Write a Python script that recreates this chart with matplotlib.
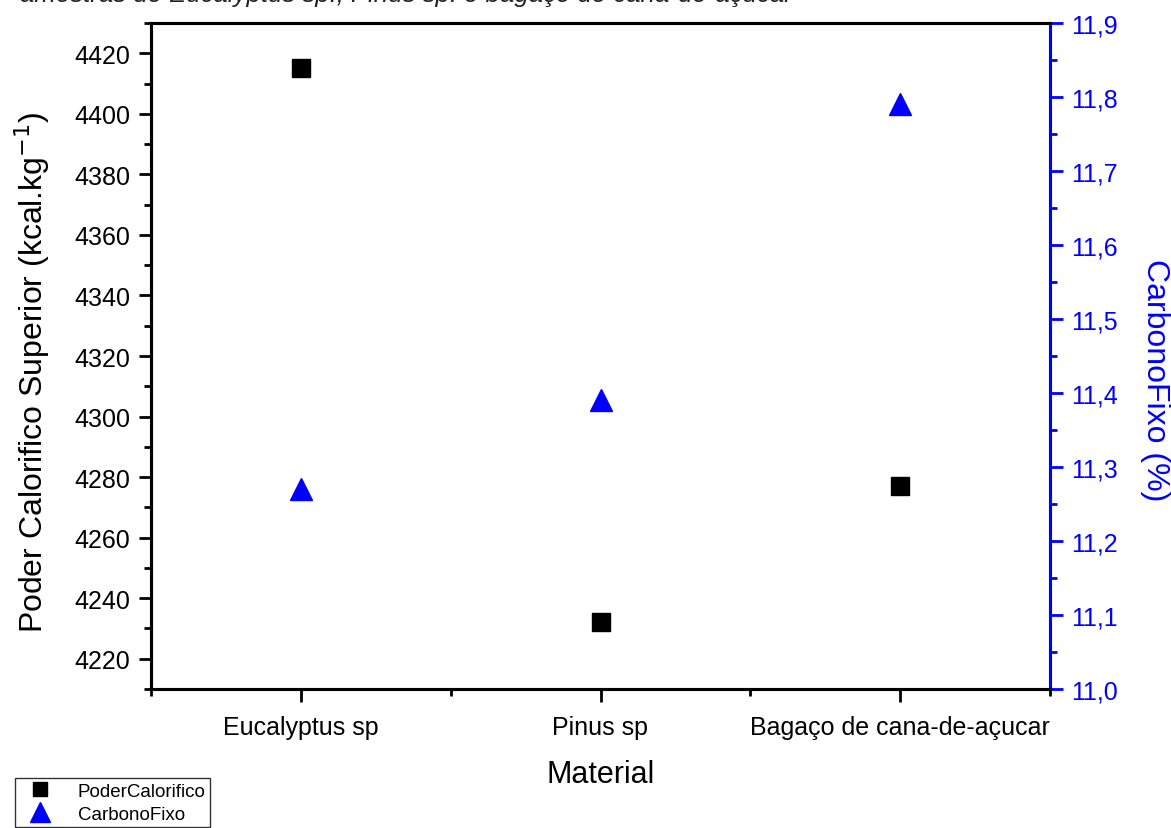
import matplotlib
matplotlib.use("Agg")
import matplotlib.pyplot as plt
from matplotlib.ticker import MultipleLocator, FuncFormatter
from matplotlib.lines import Line2D

plt.rcParams['font.family'] = ['Liberation Sans', 'DejaVu Sans']

# dados das amostras
materiais = ["Eucalyptus sp", "Pinus sp", "Bagaço de cana-de-açucar"]
poder_calorifico = [4415, 4232, 4277]     # kcal/kg
carbono_fixo = [11.27, 11.39, 11.79]      # %

blue = "#0000ff"
pos = list(range(1, len(materiais) + 1))

fig = plt.figure(figsize=(11.71, 8.29), dpi=100)
ax = fig.add_axes([151/1171, 1 - 690/829, 899/1171, 666/829])
ax2 = ax.twinx()

ax.plot(pos, poder_calorifico, "s", color="black", markersize=13, zorder=3)
ax2.plot(pos, carbono_fixo, "^", color=blue, markersize=16, zorder=3)

ax.set_xlim(0.5, 3.5)
ax.set_ylim(4210, 4430)
ax2.set_ylim(11.0, 11.9)

ax.set_xticks(pos)
ax.set_xticklabels(materiais)
ax.xaxis.set_minor_locator(MultipleLocator(0.5))
ax.yaxis.set_major_locator(MultipleLocator(20))
ax.yaxis.set_minor_locator(MultipleLocator(10))
ax2.yaxis.set_major_locator(MultipleLocator(0.1))
ax2.yaxis.set_minor_locator(MultipleLocator(0.05))
ax2.yaxis.set_major_formatter(FuncFormatter(lambda v, p: f"{v:.1f}".replace(".", ",")))

for a in (ax, ax2):
    for s in a.spines.values():
        s.set_linewidth(2.2)
ax2.spines["right"].set_color(blue)

ax.tick_params(axis="both", which="major", direction="out", length=9, width=2,
               labelsize=18, pad=6)
ax.tick_params(axis="both", which="minor", direction="out", length=5, width=2)
ax.tick_params(axis="x", which="major", pad=10)
ax2.tick_params(axis="y", which="major", direction="out", length=9, width=2,
                colors=blue, labelsize=18, pad=6)
ax2.tick_params(axis="y", which="minor", direction="out", length=5, width=2, colors=blue)

ax.set_xlabel("Material", fontsize=22, labelpad=14)
ax.set_ylabel("Poder Calorifico Superior (kcal.kg$^{-1}$)", fontsize=23)
ax.yaxis.set_label_coords(-99/899, (690 - 372) / 666)
ax2.set_ylabel("CarbonoFixo (%)", fontsize=23, color=blue, rotation=-90, va="center")
ax2.yaxis.set_label_coords(1 + 105/899, (690 - 380) / 666)

# título parcialmente fora da figura
fig.text(20/1171, 1 - 2/829,
         "amostras de Eucalyptus sp., Pinus sp. e bagaço de cana-de-açúcar",
         fontsize=18.5, style="italic", color="#222222", va="baseline", ha="left")

handles = [
    Line2D([], [], marker="s", color="black", linestyle="none", markersize=10),
    Line2D([], [], marker="^", color=blue, linestyle="none", markersize=14),
]
fig.legend(handles, ["PoderCalorifico", "CarbonoFixo"], loc="upper left",
           bbox_to_anchor=(15/1171, 1 - 779/829), fontsize=13.5, frameon=True,
           fancybox=False, edgecolor="black", borderpad=0.25, labelspacing=0.3,
           handlelength=2.2, handletextpad=0.9, borderaxespad=0)

fig.savefig("out.png", dpi=100)
